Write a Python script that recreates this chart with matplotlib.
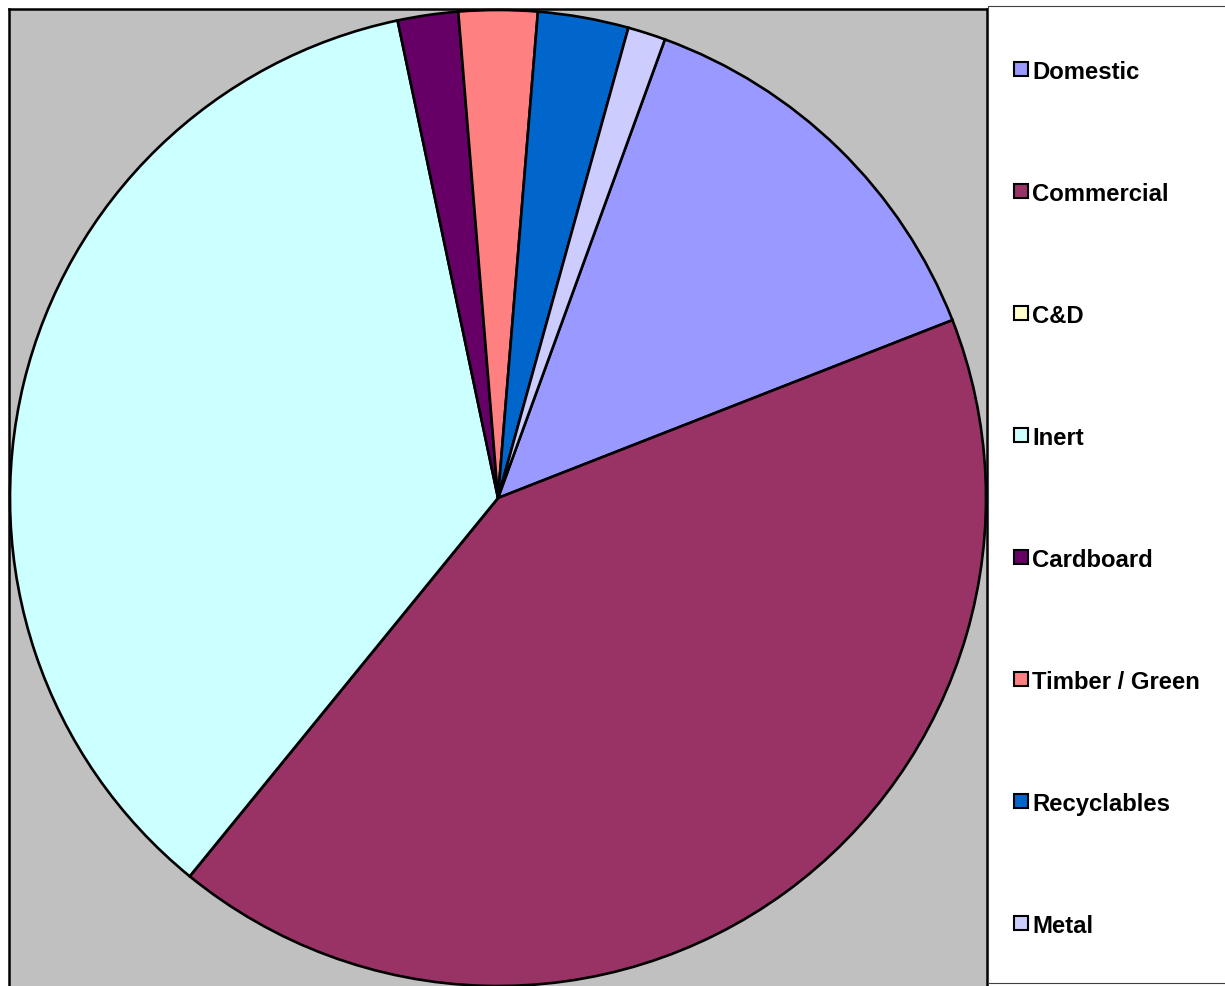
import matplotlib
matplotlib.use("Agg")
import matplotlib.pyplot as plt
from matplotlib.patches import Rectangle

categories = ["Domestic", "Commercial", "C&D", "Inert", "Cardboard",
              "Timber / Green", "Recyclables", "Metal"]
values = [13.5, 41.8, 0.0, 35.8, 2.0, 2.6, 3.0, 1.25]
colors = ["#9999FF", "#993366", "#FFFFCC", "#CCFFFF", "#660066",
          "#FF8080", "#0066CC", "#CCCCFF"]

W, H = 1225, 987
fig = plt.figure(figsize=(W / 100, H / 100), dpi=100)
fig.patch.set_facecolor("white")

# plot area
x0, x1, ytop = 9, 987, 10
ax = fig.add_axes([x0 / W, 0, (x1 - x0) / W, (H - ytop) / H])
ax.set_facecolor("#C0C0C0")

cx, cy, r = 498, H - 499, 488
ax.pie(values, colors=colors, startangle=70, counterclock=False,
       center=(cx, cy), radius=r, frame=True,
       wedgeprops=dict(edgecolor="black", linewidth=1.9))
ax.set_aspect("auto")
ax.set_xlim(x0, x1)
ax.set_ylim(0, H - ytop)
ax.set_xticks([])
ax.set_yticks([])
for s in ("left", "right", "top"):
    ax.spines[s].set_linewidth(1.8)
    ax.spines[s].set_color("black")
ax.spines["bottom"].set_visible(False)

# legend box
fig.patches.append(Rectangle((988 / W, (H - 984) / H), (W - 988 + 5) / W,
                             (984 - 7) / H, transform=fig.transFigure,
                             facecolor="white", edgecolor="#404040",
                             linewidth=0.8, zorder=0))

ys = [70, 192, 314, 436, 558, 680, 802, 924]
for lab, col, y in zip(categories, colors, ys):
    fig.patches.append(Rectangle((1014 / W, (H - y - 7) / H), 14 / W, 14 / H,
                                 transform=fig.transFigure, facecolor=col,
                                 edgecolor="black", linewidth=1.5, zorder=3))
    fig.text(1032 / W, (H - y) / H, lab, fontsize=17.2, fontweight="bold",
             family="Liberation Sans", ha="left", va="center_baseline")

fig.savefig("out.png", dpi=100, facecolor="white")
